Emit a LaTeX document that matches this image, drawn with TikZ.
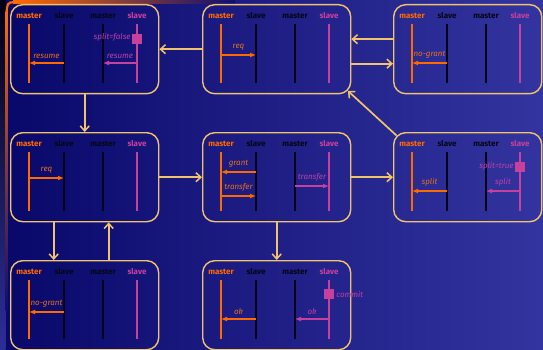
\documentclass[tikz,border=0pt]{standalone}
\usepackage{fontspec}
\setmainfont{Fira Sans}
\usetikzlibrary{arrows.meta,calc}

\definecolor{bgl}{HTML}{08086A}
\definecolor{bgr}{HTML}{3434A0}
\definecolor{frm}{HTML}{F2C36E}
\definecolor{org}{HTML}{FF6A00}
\definecolor{mag}{HTML}{C8409E}
\definecolor{ink}{HTML}{05051A}
\definecolor{orgtxt}{HTML}{E8701A}
\definecolor{magtxt}{HTML}{C040A8}

\tikzset{
  box/.style={draw=frm, line width=1.4pt, rounded corners=12pt,
    minimum width=148pt, minimum height=89pt, inner sep=0pt, anchor=north west},
  hd/.style={font=\fontsize{8}{8}\selectfont\bfseries, inner sep=0pt},
  mline/.style={org, line width=2.4pt},
  sline/.style={ink, line width=1.1pt},
  pline/.style={mag, line width=2.4pt},
  omsg/.style={org, text=orgtxt, line width=1.4pt, -{Latex[length=6pt,width=5pt]}},
  pmsg/.style={mag, text=magtxt, line width=1.4pt, -{Latex[length=6pt,width=5pt]}},
  mtxt/.style={font=\fontsize{8}{8}\selectfont\itshape, inner sep=0pt, above=4pt},
  flow/.style={frm, line width=1.7pt, -{Straight Barb[length=5pt,width=9pt,line width=1.5pt]}},
  sq/.style={fill=mag, minimum size=10pt, inner sep=0pt},
  sqtxt/.style={font=\fontsize{8}{8}\selectfont\itshape, inner sep=0pt, text=magtxt},
}

% a box with four lifelines: master, slave, master, slave
\newcommand\seqbox[3]{%
  \node[box] (#1) at (#2,#3) {};
  \node[hd, text=org] (#1-hm1) at ($(#1.north west)+(19,12)$) {master};
  \node[hd, text=ink] (#1-hs1) at ($(#1.north west)+(54,12)$) {slave};
  \node[hd, text=ink] (#1-hm2) at ($(#1.north west)+(93,12)$) {master};
  \node[hd, text=mag] (#1-hs2) at ($(#1.north west)+(127,12)$) {slave};
  \coordinate (#1-m1) at ($(#1.north west)+(19,20)$);
  \coordinate (#1-s1) at ($(#1.north west)+(54,20)$);
  \coordinate (#1-m2) at ($(#1.north west)+(93,20)$);
  \coordinate (#1-s2) at ($(#1.north west)+(127,20)$);
  \coordinate (#1-m1e) at ($(#1.north west)+(19,79)$);
  \coordinate (#1-s1e) at ($(#1.north west)+(54,79)$);
  \coordinate (#1-m2e) at ($(#1.north west)+(93,79)$);
  \coordinate (#1-s2e) at ($(#1.north west)+(127,79)$);
  \draw[mline] (#1-m1) -- (#1-m1e);
  \draw[sline] (#1-s1) -- (#1-s1e);
  \draw[sline] (#1-m2) -- (#1-m2e);
  \draw[pline] (#1-s2) -- (#1-s2e);
}

% a message: style, box, from lane, to lane, depth below box top, label
\newcommand\msg[6]{%
  \coordinate (#2-y#5) at ($(#2.north west)+(0,#5)$);
  \coordinate (#2-#3-#5) at (#2-#3 |- #2-y#5);
  \coordinate (#2-#4-#5) at (#2-#4 |- #2-y#5);
  \draw[#1] (#2-#3-#5) -- node[mtxt] (#2-#3-#5-t) {#6} (#2-#4-#5);
}

% a state mark on the right slave lifeline
\newcommand\statemark[2]{%
  \coordinate (#1-yq) at ($(#1.north west)+(0,#2)$);
  \node[sq] (#1-sq) at (#1-s2 |- #1-yq) {};
}

\begin{document}
\begin{tikzpicture}[x=1pt, y=-1pt]
  % backdrop
  \shade[left color=bgl, right color=bgr] (0,0) rectangle (543,350);
  \useasboundingbox (0,0) rectangle (543,350);
  % slide border in the corner
  \shade[top color=black!80!bgl, bottom color=bgr!85!bgl] (0,0) rectangle (5.5,350);
  \shade[left color=org, right color=bgl!85!bgr] (13,1) rectangle (235,3.2);
  \shade[top color=org, bottom color=bgl!90!bgr] (5.6,12) rectangle (7.8,310);
  \draw[org, line width=2.2pt] (6.7,13) .. controls (6.7,4) and (8,2.1) .. (14,2.1);

  \seqbox{b1}{10}{4}
  \seqbox{b2}{202}{4}
  \seqbox{b3}{393}{4}
  \seqbox{b4}{10}{132}
  \seqbox{b5}{202}{132}
  \seqbox{b6}{393}{132}
  \seqbox{b7}{10}{260}
  \seqbox{b8}{202}{260}

  % messages
  \msg{omsg}{b1}{s1}{m1}{59}{resume}
  \msg{pmsg}{b1}{s2}{m2}{59}{resume}
  \statemark{b1}{35}
  \node[sqtxt, anchor=east] (b1-sqt) at ([xshift=-1pt,yshift=2pt]b1-sq.west) {split=false};

  \msg{omsg}{b2}{m1}{s1}{51}{req}

  \msg{omsg}{b3}{s1}{m1}{59}{no-grant}

  \msg{omsg}{b4}{m1}{s1}{46}{req}

  \msg{omsg}{b5}{s1}{m1}{40}{grant}
  \msg{omsg}{b5}{m1}{s1}{64}{transfer}
  \msg{pmsg}{b5}{m2}{s2}{54}{transfer}

  \msg{omsg}{b6}{s1}{m1}{59}{split}
  \msg{pmsg}{b6}{s2}{m2}{59}{split}
  \statemark{b6}{35}
  \node[sqtxt, anchor=east] (b6-sqt) at ([xshift=-1pt,yshift=1pt]b6-sq.west) {split=true};

  \msg{omsg}{b7}{s1}{m1}{52}{no-grant}

  \msg{omsg}{b8}{s1}{m1}{59}{ok}
  \msg{pmsg}{b8}{s2}{m2}{59}{ok}
  \statemark{b8}{34}
  \node[sqtxt, anchor=west] (b8-sqt) at ([xshift=2pt]b8-sq.east) {commit};

  % transitions between the states
  \draw[flow] (b2.west) -- (b1.east);
  \draw[flow] ([yshift=10pt]b3.west) -- ([yshift=10pt]b2.east);
  \draw[flow] ([yshift=-14.5pt]b2.east) -- ([yshift=-14.5pt]b3.west);
  \draw[flow] ([shift={(3.5pt,-3.5pt)}]b6.north west) -- ([shift={(-3.5pt,3.5pt)}]b2.south east);
  \draw[flow] (b1.south) -- (b4.north);
  \draw[flow] (b4.east) -- (b5.west);
  \draw[flow] (b5.east) -- (b6.west);
  \draw[flow] (b5.south) -- (b8.north);
  \draw[flow] ([xshift=-31pt]b4.south) -- ([xshift=-31pt]b7.north);
  \draw[flow] ([xshift=24pt]b7.north) -- ([xshift=24pt]b4.south);
\end{tikzpicture}
\end{document}
